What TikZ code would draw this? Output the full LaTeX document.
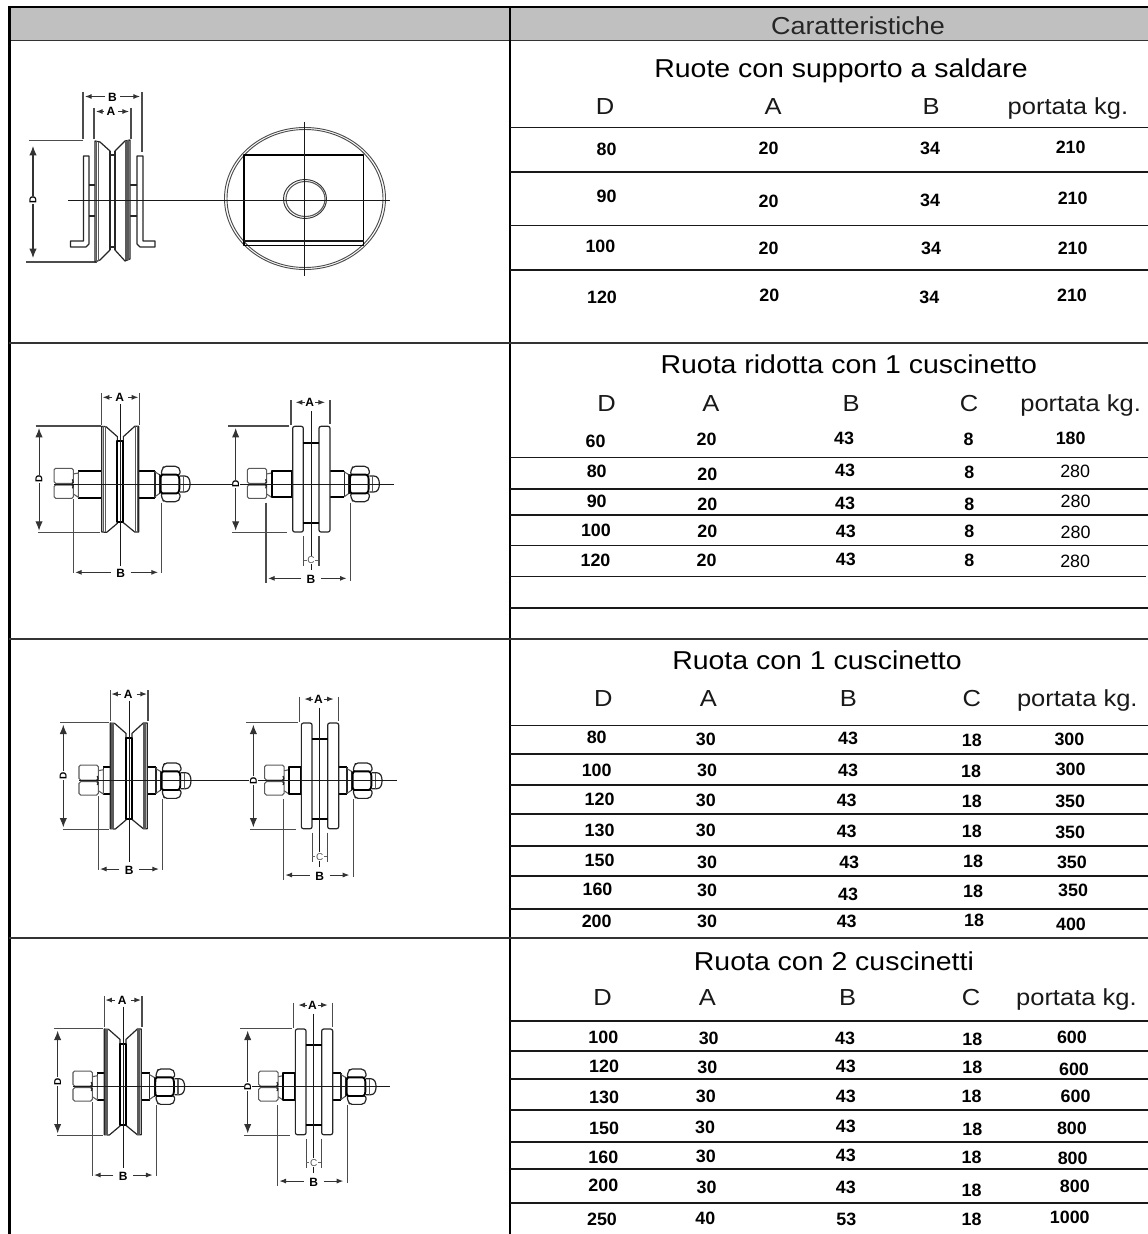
\documentclass[tikz,border=0pt]{standalone}
\usepackage{fontspec}
\setmainfont{Liberation Sans}
\newfontfamily\widefont[FakeStretch=1.1]{Liberation Sans}
\usetikzlibrary{arrows.meta}
\definecolor{hdr}{HTML}{C0C0C0}
\definecolor{grl}{HTML}{5A5A5A}
\tikzset{
 rowline/.style={line width=1.1pt,black!90},
 secline/.style={line width=1.1pt,black!80},
 thn/.style={line width=.7pt,black!90},
 ext/.style={line width=.8pt,black!70},
 grayl/.style={line width=.8pt,grl},
 med/.style={line width=.9pt,black!85},
 thk/.style={line width=1.4pt,black},
 dimarrow/.style={line width=.8pt,black!80,-{Latex[length=5pt,width=3.8pt]}},
 bigarrow/.style={line width=.8pt,black!80,{Latex[length=7pt,width=5.5pt]}-{Latex[length=7pt,width=5.5pt]}},
 dimlabel/.style={font=\bfseries\fontsize{9}{10}\selectfont,fill=white,inner sep=.6pt},
 dlabel/.style={font=\bfseries\fontsize{7.5}{8}\selectfont,fill=white,inner sep=.5pt,rotate=90},
 clabel/.style={font=\fontsize{7.5}{8}\selectfont,text=black!65,fill=white,inner sep=.6pt},
 numcell/.style={font=\bfseries\fontsize{13.4}{14}\selectfont,inner sep=0pt},
 regcell/.style={font=\fontsize{13.4}{14}\selectfont,inner sep=0pt},
 coltext/.style={font=\widefont\fontsize{17.4}{19}\selectfont,inner sep=0pt,anchor=base,text=black!90},
 titletext/.style={font=\widefont\fontsize{19.4}{21}\selectfont,inner sep=0pt,anchor=base}
}
\newcommand{\nrow}[5]{%
 \foreach \xx/\yy/\tt in {#1,#2,#3,#4,#5}{\node[numcell] at (\xx,\yy) {\tt};}}
\newcommand{\boltshape}[1]{%
 \draw[grayl,rounded corners=1.2pt] (#1-58,-47)--(#1,-47)--(#1,-2)--(#1-58,-2)--cycle;
 \draw[grayl,rounded corners=1.2pt] (#1-58,3)--(#1,3)--(#1,43)--(#1-58,43)--cycle;
 \draw[med] (#1-3,-14)--(#1,-4)--(#1-4,-2) (#1-3,13)--(#1,4)--(#1-4,3);
 \draw[grayl] (#1,-30)--(#1+15,-33)--(#1+15,40)--(#1,30);
}
\newcommand{\nutshape}[1]{\begin{scope}[shift={(#1,0)}]
 \draw[grayl] (-17,-36)--(0,-26) (-17,38)--(0,26);
 \draw[med] (-3,-30)--(-3,30);
 \draw[med] (58,-24)--(72,-24) .. controls (84,-24) and (88,-12) .. (88,0) .. controls (88,12) and (84,24) .. (72,24)--(58,24);
 \draw[grayl] (68,-24)--(68,24);
 \draw[med,fill=white,rounded corners=1.5pt] (1,-28)--(5,-47)--(10,-53)--(50,-53)--(58,-44)--(58,-28)--cycle;
 \draw[med,fill=white,rounded corners=1.5pt] (1,28)--(5,47)--(10,53)--(50,53)--(58,44)--(58,28)--cycle;
 \draw[thk,fill=white,rounded corners=1pt] (1,-28)--(0,-18)--(0,18)--(1,28)--(52,28)--(56,18)--(56,-18)--(52,-28)--cycle;
\end{scope}}
\newcommand{\vwheel}[5]{\begin{scope}[shift={(#1,#2)},x=.25pt,y=-.25pt]
 \draw[thk] (#3+15,-40)--(-57,-40) (#3+15,41)--(-57,41) (54,-40)--(#4-17,-40) (54,41)--(#4-17,41);
 \draw[med] (#3+15,-40)--(#3+15,41) (#4-17,-40)--(#4-17,41);
 \boltshape{#3}
 \nutshape{#4}
 \draw[med,fill=white] (-57,-173)--(-44,-172)--(-10,-142)--(-10,118)--(-42,145)--(-57,144)--cycle;
 \draw[med,fill=white] (8,-142)--(42,-173)--(54,-173)--(54,144)--(42,144)--(8,116)--cycle;
 \draw[grayl] (-52,-173)--(-52,144) (-47,-173)--(-47,144);
 \draw[grayl] (44,-173)--(44,144) (49,-173)--(49,144);
 \draw[thk,fill=white] (-10,-128)--(-10,115)--(8,115)--(8,-128)--cycle;
 \draw[thn] (0,-240)--(0,245);
 \draw[ext] (-57,-272)--(-57,-178) (56,-272)--(56,-178);
 \draw[dimarrow] (-25,-260)--(-54,-260);
 \draw[dimarrow] (22,-260)--(53,-260);
 \node[dimlabel] (a) at (-3,-260) {A};
 \draw[ext] (#5-10,-174)--(-60,-174) (#5-2,145)--(-62,145);
 \draw[bigarrow] (#5,-168)--(#5,140);
 \node[dlabel] (d) at (#5,-15) {D};
 \draw[ext] (#3,46)--(#3,268) (#4+3,56)--(#4+3,268);
 \draw[dimarrow] (-30,265)--(#3+5,265);
 \draw[dimarrow] (30,265)--(#4-8,265);
 \node[dimlabel] (b) at (0,268) {B};
\end{scope}}
\newcommand{\fwheel}[6]{\begin{scope}[shift={(#1,#2)},x=.25pt,y=-.25pt]
 \boltshape{#3}
 \draw[thk,fill=white] (#4,-40) rectangle (-57,40);
 \draw[thk] (57,-40)--(#5-17,-40) (57,40)--(#5-17,40);
 \draw[med] (#5-17,-40)--(#5-17,40);
 \nutshape{#5}
 \draw[med,fill=white,rounded corners=1.5pt] (-55,-173) rectangle (-23,144);
 \draw[med,fill=white,rounded corners=1.5pt] (24,-173) rectangle (57,144);
 \draw[thk] (-23,-124)--(24,-124) (-23,116)--(24,116);
 \draw[thn] (0,-219)--(0,258);
 \draw[ext] (-60,-252)--(-60,-176) (57,-252)--(57,-180);
 \draw[dimarrow] (-18,-245)--(-46,-245);
 \draw[dimarrow] (12,-245)--(42,-245);
 \node[dimlabel] (a) at (-4,-245) {A};
 \draw[ext] (#6-22,-174)--(-65,-174) (#6-10,145)--(-72,145);
 \draw[bigarrow] (#6,-168)--(#6,140);
 \draw[ext] (#3-2,56)--(#3-2,298) (#5+2,56)--(#5+2,290);
 \draw[dimarrow] (-30,283)--(#3+4,283);
 \draw[dimarrow] (30,283)--(#5-10,283);
 \node[dimlabel] (b) at (0,286) {B};
 \draw[ext] (-23,156)--(-23,245) (24,156)--(24,245);
 \draw[line width=.5pt,black!60] (-22,228)--(22,228);
 \node[clabel] (c) at (0,228) {C};
\end{scope}}
\begin{document}
\begin{tikzpicture}[x=.75pt,y=-.75pt,line join=round]
\useasboundingbox (0,0) rectangle (1148,1234);
\fill[white] (0,0) rectangle (1148,1234);
\fill[hdr] (9,7) rectangle (1148,40);
\draw[line width=2pt] (8,7)--(1148,7);
\draw[secline] (9,40.5)--(1148,40.5);
\draw[line width=2.2pt] (9.5,6)--(9.5,1234);
\draw[line width=1.1pt] (510,7)--(510,1234);
\foreach \yy in {343,639,938}{\draw[secline] (9,\yy)--(1148,\yy);}
\foreach \yy in {127.3,172,225.3,270,457.7,489,515,545.7,608,725.7,754,785,814,846,876,909,1021,1051,1079,1110,1142,1169,1203}{\draw[rowline] (510,\yy)--(1148,\yy);}
\draw[rowline] (510,576.7)--(1146,576.7);
\node[font=\widefont\fontsize{18.4}{20}\selectfont,inner sep=0pt,anchor=base,text=black!85] (hd) at (858,34.3) {Caratteristiche};
\node[titletext] (t1) at (841,77.3) {Ruote con supporto a saldare};
\node[titletext] (t2) at (848.8,373.3) {Ruota ridotta con 1 cuscinetto};
\node[titletext] (t3) at (817,669.3) {Ruota con 1 cuscinetto};
\node[titletext] (t4) at (833.9,970.6) {Ruota con 2 cuscinetti};
\foreach \tt/\xx/\yy in {D/605/115,A/773/115,B/931/115,portata kg./1068/115,
 D/606.6/411.3,A/711/411.3,B/851/411.3,C/969/411.3,portata kg./1080.6/411.3,
 D/603.3/706.3,A/708.3/706.3,B/848.3/706.3,C/971.9/706.3,portata kg./1077.3/706.3,
 D/602.5/1005.3,A/707.4/1005.3,B/847.5/1005.3,C/971/1005.3,portata kg./1076.4/1005.3}
 {\node[coltext] at (\xx,\yy) {\tt};}
\nrow{606.6/149/80}{768.6/148/20}{930/148/34}{1070.7/147/210}{606.6/196.7/90}
\nrow{768.6/201.7/20}{930/200/34}{1072.7/198/210}{600.4/246/100}{768.6/248.3/20}
\nrow{931/248.3/34}{1072.7/248.3/210}{602/297/120}{769.4/295.7/20}{929.3/297.7/34}
\node[numcell] at (1072,295.7) {210};
\nrow{595.5/441/60}{706.6/439.3/20}{844/438.7/43}{968.6/439.3/8}{1070.7/438.7/180}
\nrow{596.7/471/80}{707.4/474/20}{845/470/43}{969.4/472.7/8}{596.7/501.7/90}
\nrow{707.4/504/20}{845/503.3/43}{969.4/504.7/8}{595.9/530/100}{707.4/531.7/20}
\nrow{845.9/531.7/43}{969.4/531.3/8}{595.5/560/120}{706.6/560/20}{845.9/559.3/43}
\node[numcell] at (969.4,560.7) {8};
\foreach \xx/\yy in {1075.2/471.7,1075.6/501.7,1075.6/532,1075.2/561.7}{\node[regcell] at (\xx,\yy) {280};}
\nrow{596.7/737.7/80}{705.8/739.3/30}{848/738.3/43}{971.9/740.3/18}{1069.4/739.3/300}
\nrow{596.7/770.3/100}{707/770.3/30}{848/770.3/43}{971/771/18}{1070.7/769.3/300}
\nrow{599.6/799/120}{705.8/800.3/30}{846.7/800.3/43}{971.9/801/18}{1070.2/801/350}
\nrow{599.6/830.3/130}{705.8/830.3/30}{846.7/831/43}{971.9/831.7/18}{1070.2/832/350}
\nrow{599.6/860.7/150}{707/862.3/30}{849.2/862.3/43}{973.1/861/18}{1071.9/862.3/350}
\nrow{597.5/889.3/160}{707/890/30}{848/894/43}{973.1/891.7/18}{1073.1/890.7/350}
\nrow{596.7/921/200}{707/921/30}{846.7/921/43}{974/920.3/18}{1071/924/400}
\nrow{603.3/1037/100}{708.7/1038/30}{845/1038/43}{972.3/1039/18}{1071.9/1037/600}
\nrow{604.1/1066.3/120}{707.4/1067.3/30}{845.9/1066.3/43}{972.3/1067.3/18}{1074/1069/600}
\nrow{604.1/1097.3/130}{705.8/1096.3/30}{845.9/1096.3/43}{971.5/1096.7/18}{1075.6/1096.3/600}
\nrow{604.1/1128/150}{705/1127.3/30}{845.9/1126.7/43}{972.3/1129/18}{1071.9/1128/800}
\nrow{603.3/1157.3/160}{705.8/1156.7/30}{845.9/1155/43}{971.5/1157.3/18}{1072.7/1158.3/800}
\nrow{603.3/1185/200}{706.6/1187.3/30}{845.9/1187.3/43}{971.5/1190/18}{1074.8/1186.3/800}
\nrow{602/1219.3/250}{705.4/1218.3/40}{846.3/1219/53}{971.5/1219.3/18}{1069.8/1217.7/1000}
% drawing 1
\draw[ext] (29,140.7)--(83,140.7) (26,262)--(97,262);
\draw[bigarrow] (33,146)--(33,258);
\node[dlabel] (d1) at (33,200) {D};
\draw[ext] (83,92)--(83,139) (142,92)--(142,152);
\draw[dimarrow] (105,96.5)--(85,96.5);
\draw[dimarrow] (120,96.5)--(140,96.5);
\node[dimlabel] (b1) at (112.5,97) {B};
\draw[ext] (94,108)--(94,139) (131,108)--(131,139);
\draw[dimarrow] (104,111.5)--(96,111.5);
\draw[dimarrow] (118,111.5)--(129,111.5);
\node[dimlabel] (a1) at (111,111) {A};
\draw[med,fill=white] (83.5,156)--(83.5,241)--(70.5,241)--(70.5,247)--(86,247)--(89,244)--(89,156)--cycle;
\draw[med,fill=white] (137,156)--(143,156)--(143,241)--(155,241)--(155,247)--(140,247)--(137,244)--cycle;
\draw[med] (89,185)--(95,185) (89,216)--(95,216) (130,185)--(137,185) (130,216)--(137,216);
\draw[med,fill=white] (95,141)--(100,142)--(110,151)--(110,250)--(100,260)--(95,262)--cycle;
\draw[med,fill=white] (115,151)--(125,141)--(130,140)--(130,259)--(125,261)--(115,250)--cycle;
\draw[grayl,line width=1pt] (96.5,141)--(96.5,262) (98.5,142)--(98.5,261) (126,141)--(126,260) (128,140)--(128,260);
\draw[med] (110,155)--(115,155) (110,247)--(115,247) (110,151)--(110,250) (115,151)--(115,250);
\draw[line width=.7pt,black!70] (305,198.5) ellipse [x radius=80.5,y radius=71];
\draw[line width=.7pt,black!70] (305,198.5) ellipse [x radius=78,y radius=69];
\draw[thk] (244,155) rectangle (363.5,245.5);
\draw[line width=1pt,black!90] (244,241)--(363.5,241);
\draw[line width=.7pt,black!80] (305,199) ellipse [x radius=21.5,y radius=19.5];
\draw[line width=.8pt,black!65] (305.5,199) ellipse [x radius=19.5,y radius=17.5];
\draw[thn] (304,122)--(304,276);
\draw[thn] (68,200)--(390,200);
% wheels
\vwheel{120.7}{484}{-142}{120}{-245}{}
\fwheel{311}{484}{-133}{-118}{117}{-226}
\vwheel{129.3}{780.7}{-93}{97}{-198}{}
\fwheel{319.7}{780.7}{-107}{-92}{99}{-199}
\vwheel{123.3}{1086.7}{-93}{96}{-197}{}
\fwheel{313.7}{1086.7}{-107}{-92}{99}{-198}
% axle lines, above the wheels
\draw[thn] (54,484)--(394,484);
\draw[thn] (79,780.7)--(396.7,780.7);
\draw[thn] (72.7,1086.7)--(390,1086.7);
\node[dlabel] (d2) at (235.7,484) {D};
\node[dlabel] (d3) at (253.4,780.7) {D};
\node[dlabel] (d4) at (247.7,1086.7) {D};
\end{tikzpicture}
\end{document}
